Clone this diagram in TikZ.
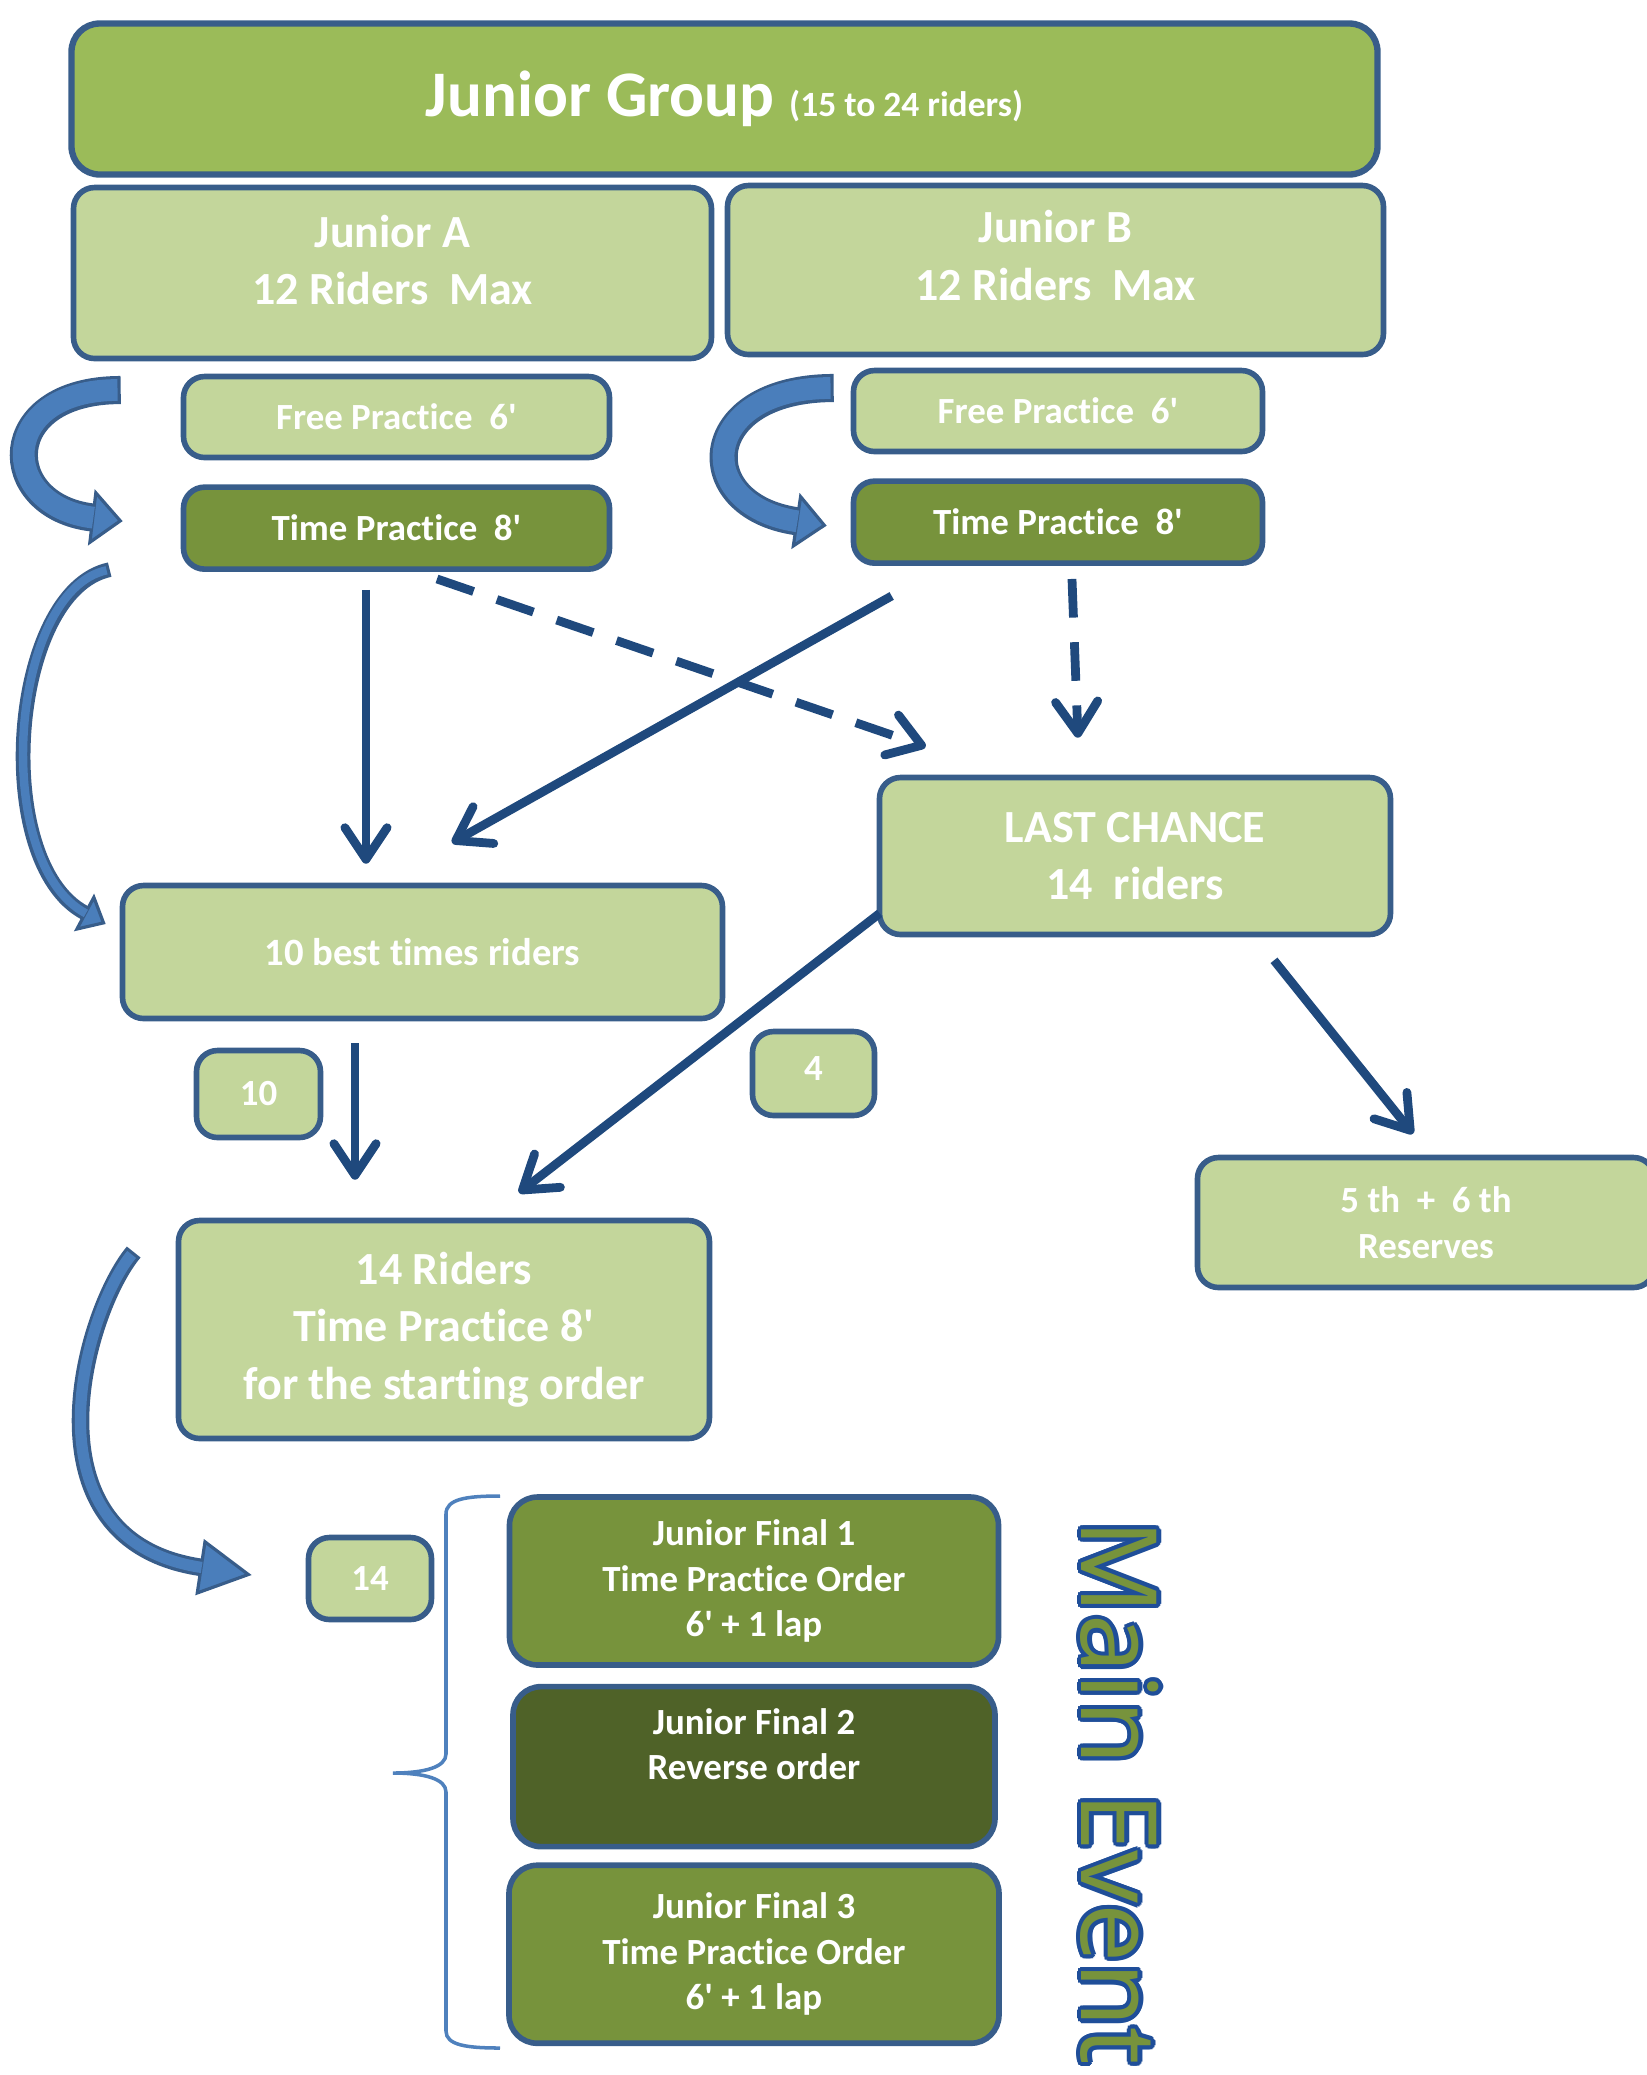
\documentclass[tikz,border=0pt]{standalone}
\usepackage{fontspec}
\setmainfont{Carlito}[Ligatures={TeXOff,NoCommon}]
\newfontfamily\evfont{Open Sans}
\usepackage{contour}
\usetikzlibrary{positioning, arrows.meta, calc}
\definecolor{boxline}{HTML}{385D8A}
\definecolor{groupgreen}{HTML}{9BBB59}
\definecolor{palegreen}{HTML}{C3D69B}
\definecolor{olivegreen}{HTML}{77933C}
\definecolor{deepgreen}{HTML}{4F6228}
\definecolor{arrowblue}{HTML}{1F497D}
\definecolor{bandfill}{HTML}{4A7EBB}
\definecolor{bandline}{HTML}{385D8A}
\definecolor{braceblue}{HTML}{4F81BD}
\definecolor{evline}{HTML}{1F4E99}
\newcommand\bigtxt{\fontsize{13.1pt}{16.3pt}\selectfont\bfseries}
\newcommand\smalltxt{\fontsize{10.5pt}{12.9pt}\selectfont\bfseries}
\contourlength{1.2pt}
\tikzset{
  stage/.style={
    draw=boxline,
    line width=1.6pt,
    rectangle,
    rounded corners=6pt,
    align=center,
    fill=palegreen,
    text=white,
    inner sep=0pt,
    font=\bigtxt
  },
  tally/.style={
    stage,
    font=\smalltxt,
    minimum width=12.3mm,
    minimum height=8.5mm
  },
  flow/.style={
    draw=arrowblue,
    line width=2.5pt,
    -{Straight Barb[length=9pt, width=12pt, round]}
  },
  dashflow/.style={
    flow,
    dash pattern=on 11pt off 7pt
  },
  bandedge/.style={
    draw=bandline
  },
  bandcore/.style={
    draw=bandfill
  },
  bracket/.style={
    draw=braceblue,
    line width=1pt
  }
}

\begin{document}
\begin{tikzpicture}[x=0.1mm, y=-0.1mm]
    \useasboundingbox (0,0) rectangle (1647,2075);

    % top of the tree
    \node[stage, fill=groupgreen, line width=1.8pt, rounded corners=8pt, minimum width=130.6mm, minimum height=15.1mm] (group) at (724.5,99)
      {\fontsize{18.5pt}{22pt}\selectfont Junior Group \fontsize{10.1pt}{12pt}\selectfont(15 to 24 riders)};
    \node[stage, minimum width=63.8mm, minimum height=17.1mm] (juniorA) at (392.5,273) {Junior A\\12 Riders\ \ Max\\[-9pt]\mbox{}};
    \node[stage, minimum width=65.6mm, minimum height=16.9mm] (juniorB) at (1055.5,270) {Junior B\\12 Riders\ \ Max\\[-8pt]\mbox{}};

    % practice sessions
    \node[stage, font=\smalltxt, minimum width=42.6mm, minimum height=8.1mm] (freeA) at (396.5,417) {Free Practice\ \ 6'};
    \node[stage, font=\smalltxt, fill=olivegreen, minimum width=42.6mm, minimum height=8.2mm, below=2.4mm of freeA] (timeA) {Time Practice\ \ 8'};
    \node[stage, font=\smalltxt, minimum width=40.9mm, minimum height=8.1mm] (freeB) at (1058,411) {Free Practice\ \ 6'};
    \node[stage, font=\smalltxt, fill=olivegreen, minimum width=40.9mm, minimum height=8.2mm, below=2.4mm of freeB] (timeB) {Time Practice\ \ 8'};

    % qualification
    \node[stage, minimum width=51.1mm, minimum height=15.7mm] (lastChance) at (1135,856) {LAST CHANCE\\14\ \ riders};
    \node[stage, font=\fontsize{11pt}{13pt}\selectfont\bfseries, minimum width=60mm, minimum height=13.3mm] (bestTen) at (422.5,952) {10 best times riders};
    \node[tally, minimum width=12.4mm, minimum height=8.7mm] (ten) at (258.5,1094) {10};
    \node[tally, minimum width=12.2mm, minimum height=8.4mm] (four) at (813.5,1073.5) {4\\[-10pt]\mbox{}};
    \node[stage, font=\smalltxt, minimum width=45.7mm, minimum height=13mm] (reserves) at (1426,1222.5) {5 th\ \ +\ \ 6 th\\Reserves};
    \node[stage, minimum width=53.1mm, minimum height=21.8mm] (riders) at (444,1329.5) {14 Riders\\Time Practice 8'\\for the starting order};
    \node[tally, minimum height=8.2mm] (fourteen) at (370,1578.5) {14};

    % main event
    \node[stage, font=\smalltxt, fill=olivegreen, rounded corners=8pt, minimum width=48.9mm, minimum height=16.8mm] (finalOne) at (754,1581) {Junior Final 1\\Time Practice Order\\6' + 1 lap};
    \node[stage, font=\smalltxt, fill=deepgreen, rounded corners=8pt, minimum width=48.2mm, minimum height=16mm, below=1.6mm of finalOne] (finalTwo) {Junior Final 2\\Reverse order\\\mbox{}};
    \node[stage, font=\smalltxt, fill=olivegreen, rounded corners=8pt, minimum width=49mm, minimum height=17.8mm, below=1.3mm of finalTwo] (finalThree) {Junior Final 3\\Time Practice Order\\6' + 1 lap};
    \node[rotate=-90, anchor=west, inner sep=0pt, text=olivegreen, font=\evfont\fontsize{30pt}{34pt}\selectfont] (mainEvent) at (1118,1519) {\contour{evline}{Main Event}};

    % straight connectors
    \draw[flow] ($(timeA.south)+(-30.5,18)$) -- ($(bestTen.north)+(-56.5,-19)$);
    \draw[dashflow] ($(timeA.south)+(40.5,7)$) -- ($(lastChance.north west)+(49,-28)$);
    \draw[flow] ($(timeB.south west)+(41,30)$) -- ($(bestTen.north)+(29.5,-40)$);
    \draw[dashflow] ($(timeB.south)+(14,13)$) -- ($(lastChance.north)+(-57,-37)$);
    \draw[flow] ($(lastChance.south west)+(3,-24)$) -- ($(riders.north)+(75,-25)$);
    \draw[flow] ($(lastChance.south)+(139,23)$) -- ($(reserves.north)+(-13,-21)$);
    \draw[flow] ($(bestTen.south)+(-67.5,22)$) -- ($(riders.north)+(-89,-38)$);

    % curved block arrows
    \coordinate (bendAin) at ($(freeA.west)+(-60,-27)$);
    \coordinate (bendAout) at ($(timeA.west)+(-58,-7)$);
    \coordinate (bendBin) at ($(freeB.west)+(-17,-23)$);
    \coordinate (bendBout) at ($(timeB.west)+(-24,3.5)$);
    \coordinate (longIn) at ($(timeA.west)+(-71,41.5)$);
    \coordinate (longOut) at ($(bestTen.west)+(-14,-28)$);
    \coordinate (lowIn) at ($(riders.west)+(-42,-77.5)$);
    \coordinate (lowOut) at ($(fourteen.west)+(-54,-3.5)$);

    \draw[bandedge, line width=8pt, -{Triangle[width=16pt, length=9pt, line width=0.9pt, color=bandline, fill=bandfill]}]
      (bendAin) .. controls +(-125,0) and +(-125,-15) .. (bendAout);
    \draw[bandcore, line width=6.2pt, shorten <=0.9pt, shorten >=8.4pt]
      (bendAin) .. controls +(-125,0) and +(-125,-15) .. (bendAout);
    \draw[bandedge, line width=8pt, -{Triangle[width=16pt, length=9pt, line width=0.9pt, color=bandline, fill=bandfill]}]
      (bendBin) .. controls +(-136,0) and +(-136,-20) .. (bendBout);
    \draw[bandcore, line width=6.2pt, shorten <=0.9pt, shorten >=8.4pt]
      (bendBin) .. controls +(-136,0) and +(-136,-20) .. (bendBout);
    \draw[bandedge, line width=4.2pt, -{Triangle[width=12pt, length=7pt, line width=0.9pt, color=bandline, fill=bandfill]}]
      (longIn) .. controls +(-100,21) and +(-116,-62) .. (longOut);
    \draw[bandcore, line width=2.4pt, shorten <=0.9pt, shorten >=6.4pt]
      (longIn) .. controls +(-100,21) and +(-116,-62) .. (longOut);
    \draw[bandedge, line width=5pt, -{Triangle[width=16pt, length=15pt, line width=0.9pt, color=bandline, fill=bandfill]}]
      (lowIn) .. controls +(-50,60) and +(-232,-35) .. (lowOut);
    \draw[bandcore, line width=3.2pt, shorten <=0.9pt, shorten >=14.4pt]
      (lowIn) .. controls +(-50,60) and +(-232,-35) .. (lowOut);

    % brace round the finals
    \draw[bracket] (500,1496) .. controls (466,1496) and (446,1499) .. (446,1514) -- (446,1754)
      .. controls (446,1767) and (425,1773) .. (393,1773)
      .. controls (425,1773) and (446,1779) .. (446,1792) -- (446,2031)
      .. controls (446,2045) and (466,2048) .. (500,2048);
\end{tikzpicture}
\end{document}
